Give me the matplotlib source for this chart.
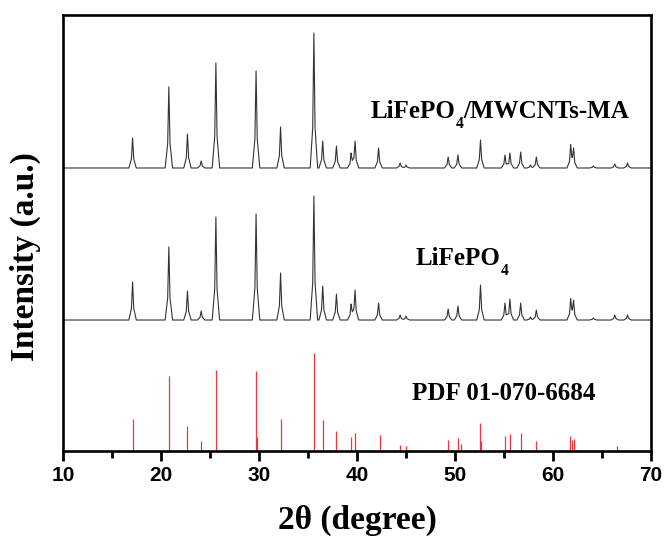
import numpy as np
import matplotlib
matplotlib.use("Agg")
import matplotlib.pyplot as plt
from matplotlib.transforms import offset_copy

# ---- data (arbitrary intensity units) ----
peak_pos = [17.1, 20.8, 22.7, 24.1, 25.6, 29.7, 32.2, 35.6, 36.5, 37.9, 39.4, 39.8,
            42.2, 44.4, 45.0, 49.3, 50.3, 52.6, 55.1, 55.6, 56.7, 57.7, 58.3,
            61.8, 62.1, 64.1, 66.3, 67.6]
composite_base = 283
composite_height = [30, 81, 34, 7, 105, 97, 41, 135, 27, 22, 15, 27,
                    20, 5, 3, 11, 13, 28, 13, 15, 16, 3, 11,
                    22, 18, 2, 4, 5]
pristine_base = 131
pristine_height = [38, 73, 29, 9, 103, 106, 47, 124, 34, 26, 16, 30,
                   17, 5, 4, 11, 14, 35, 17, 21, 17, 3, 10,
                   20, 18, 2, 5, 5]

pdf_pos = [17.1, 20.8, 22.7, 24.1, 25.6, 29.7, 29.8, 32.2, 35.6, 36.5, 37.9, 39.4, 39.8,
           42.3, 44.4, 45.0, 49.3, 50.3, 50.6, 52.6, 52.7, 55.1, 55.6, 56.7, 58.3,
           61.7, 61.9, 62.1, 66.5]
pdf_int = [32, 75, 25, 10, 81, 80, 14, 32, 98, 31, 20, 14, 18,
           16, 6, 5, 11, 13, 7, 28, 10, 15, 17, 18, 10,
           15, 11, 12, 5]

# label pieces: (text, is_subscript)
labels = [[("LiFePO", False), ("4", True), ("/MWCNTs-MA", False)],
          [("LiFePO", False), ("4", True)],
          [("PDF 01-070-6684", False)]]
label_x = [41.4, 46.0, 45.6]
label_y = [339, 193, 58]

xticks = [10, 20, 30, 40, 50, 60, 70]


def profile(pos, heights, base, x0=10.0, x1=70.0):
    """Piecewise-linear peak profile built from the read peak list."""
    hw = 0.38
    shoulder = 0.12
    shape_dx = [-hw, -shoulder, 0.0, shoulder, hw]
    shape_f = [0.0, 0.3, 1.0, 0.3, 0.0]
    xs = [x0, x1]
    for p in pos:
        xs += [p + d for d in shape_dx]
    xs = np.array(sorted(set(np.round(xs, 4))))
    ys = np.full_like(xs, float(base))
    for p, h in zip(pos, heights):
        ys += h * np.interp(xs, [p + d for d in shape_dx], shape_f, left=0, right=0)
    return xs, ys


fig = plt.figure(figsize=(6.66, 5.43), dpi=100)
ax = fig.add_axes([0.0946, 0.1694, 0.8829, 0.803])

x1, y1 = profile(peak_pos, composite_height, composite_base)
x2, y2 = profile(peak_pos, pristine_height, pristine_base)
ax.plot(x1, y1, color='#333333', lw=0.8)
ax.plot(x2, y2, color='#333333', lw=0.8)
ax.vlines(pdf_pos, 0, pdf_int, color='#e8383d', lw=0.9)

ax.set_xlim(10, 70)
ax.set_ylim(0, 436)

renderer = fig.canvas.get_renderer()
FS = 18
for pieces, lx, ly in zip(labels, label_x, label_y):
    dx_px = 0.0
    for txt, sub in pieces:
        tr = offset_copy(ax.transData, fig=fig, x=dx_px * 72 / fig.dpi,
                         y=(-9 if sub else 0), units='points')
        t = ax.text(lx, ly, txt, fontsize=(FS * 0.62 if sub else FS), fontweight='bold',
                    family='Liberation Serif', ha='left', va='center', transform=tr)
        bb = t.get_window_extent(renderer=renderer)
        dx_px += bb.width

ax.set_xticks(xticks)
ax.set_xticks([15, 25, 35, 45, 55, 65], minor=True)
ax.set_yticks([])
for lab in ax.get_xticklabels():
    lab.set_fontfamily('Liberation Sans')
    lab.set_fontweight('bold')
    lab.set_fontsize(15)
ax.tick_params(axis='x', which='major', direction='out', length=7, width=2, pad=4)
ax.tick_params(axis='x', which='minor', direction='out', length=5, width=2)
for s in ax.spines.values():
    s.set_linewidth(1.9)

ax.set_xlabel("2θ (degree)", fontsize=24, fontweight='bold', family='Liberation Serif', labelpad=14)
ax.set_ylabel("Intensity (a.u.)", fontsize=24, fontweight='bold', family='Liberation Serif', labelpad=14)
ax.yaxis.set_label_coords(-0.038, 0.445)

fig.savefig("out.png", dpi=100)
